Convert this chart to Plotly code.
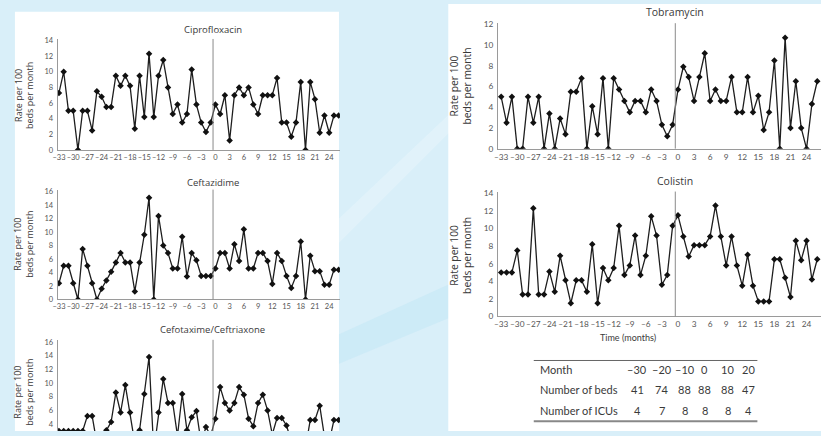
import plotly.graph_objects as go

W, H = 821, 436

# ---------------- data ----------------
months = [-33, -32, -31, -30, -29, -28, -27, -26, -25, -24, -23, -22, -21, -20, -19, -18, -17,
          -16, -15, -14, -13, -12, -11, -10, -9, -8, -7, -6, -5, -4, -3, -2, -1,
          0, 1, 2, 3, 4, 5, 6, 7, 8, 9, 10, 11, 12, 13, 14, 15, 16, 17, 18, 19, 20,
          21, 22, 23, 24, 25, 26]

tick_vals = [-33, -30, -27, -24, -21, -18, -15, -12, -9, -6, -3, 0, 3, 6, 9, 12, 15, 18, 21, 24]
tick_text = ["–33", "–30", "–27", "–24", "–21", "–18", "–15", "–12", "–9", "–6", "–3",
             "0", "3", "6", "9", "12", "15", "18", "21", "24"]

ciprofloxacin = [7.3, 10, 5, 5, 0, 5, 5, 2.5, 7.5, 6.8, 5.5, 5.5, 9.5, 8.2, 9.5, 8.2, 2.7,
                 9.5, 4.2, 12.3, 4.2, 9.5, 11.5, 8, 4.6, 5.8, 3.5, 4.6, 10.3, 5.8, 3.5, 2.3, 3.5,
                 5.8, 4.6, 7, 1.2, 7, 8, 7, 8, 5.8, 4.6, 7, 7, 7, 9.2, 3.5, 3.5, 1.7, 3.5,
                 8.7, 0, 8.7, 6.5, 2.2, 4.4, 2.2, 4.4, 4.4]

ceftazidime = [2.4, 5, 5, 2.4, 0, 7.5, 5, 2.4, 0, 1.6, 2.8, 4.1, 5.5, 6.9, 5.5, 5.5, 1.2,
               5.5, 9.6, 15.1, 0, 12.4, 8, 6.9, 4.6, 4.6, 9.3, 3.4, 6.9, 5.8, 3.5, 3.5, 3.5,
               4.6, 6.9, 6.9, 4.6, 8.2, 5.7, 10.4, 4.6, 4.6, 6.9, 6.9, 5.7, 2.3, 6.9, 5.7, 3.5,
               1.7, 3.5, 8.6, 0, 6.5, 4.2, 4.2, 2.2, 2.2, 4.4, 4.4]

cefotaxime = [3.0, 3.0, 3.0, 3.0, 3.0, 3.0, 5.2, 5.2, 1.2, 1.2, 3.1, 4.3, 8.6, 5.7, 9.7, 5.7,
              1.2, 3.1, 8.4, 13.8, 0, 5.7, 10.6, 7.1, 7.1, 2.3, 8.4, 3.1, 5.0, 5.9, 1.2, 3.6, 2.3,
              4.8, 9.4, 7.1, 6.0, 7.1, 9.4, 8.3, 4.8, 3.7, 7.1, 8.3, 6.0, 2.5, 4.9, 4.9, 3.8,
              1.5, 0.8, 2.2, 0.5, 4.6, 4.6, 6.7, 2.2, 1.4, 4.6, 4.6]

tobramycin = [5, 2.5, 5, 0, 0, 5, 2.5, 5, 0, 3.4, 0, 2.9, 1.4, 5.5, 5.5, 6.8, 0, 4.1, 1.4,
              6.8, 0, 6.8, 5.7, 4.6, 3.5, 4.6, 4.6, 3.5, 5.7, 4.6, 2.3, 1.2, 2.3,
              5.7, 7.9, 6.9, 4.6, 6.9, 9.2, 4.6, 5.7, 4.6, 4.6, 6.9, 3.5, 3.5, 6.9, 3.5, 5.1,
              1.8, 3.5, 8.5, 0, 10.7, 2.0, 6.5, 2.0, 0, 4.3, 6.5]

colistin = [5.0, 5.0, 5.0, 7.5, 2.5, 2.5, 12.3, 2.5, 2.5, 5.1, 2.8, 6.9, 4.1, 1.5, 4.1, 4.1,
            2.8, 8.2, 1.5, 5.5, 4.1, 5.5, 10.3, 4.7, 5.8, 9.2, 4.7, 6.9, 11.4, 9.2, 3.6, 4.7, 10.3,
            11.5, 9.1, 6.8, 8.1, 8.1, 8.1, 9.1, 12.6, 9.1, 5.8, 9.1, 5.8, 3.5, 7.0, 3.5, 1.7,
            1.7, 1.7, 6.5, 6.5, 4.4, 2.2, 8.6, 6.4, 8.6, 4.2, 6.5]

table_months = ["–30", "–20", "–10", "0", "10", "20"]
table_beds = ["41", "74", "88", "88", "88", "47"]
table_icus = ["4", "7", "8", "8", "8", "4"]


# ---------------- helpers ----------------
def px(x):
    return x / W


def py(y):
    return 1 - y / H


FONT = "Open Sans"
TICKFONT = "Lato"
TXT = "#3a3a3a"
AX = "#9a9a9a"

panels = [
    ("Ciprofloxacin", ciprofloxacin, (53, 337), (35.7, 149), [0, 14.2], "L", True),
    ("Ceftazidime", ceftazidime, (53, 337), (189.5, 301.7), [0, 16.3], "L", True),
    ("Cefotaxime/Ceftriaxone", cefotaxime, (53, 337), (342.9, 436), [3.0, 16.3], "L", False),
    ("Tobramycin", tobramycin, (496, 821), (19.6, 147.7), [0, 12.1], "R", True),
    ("Colistin", colistin, (496, 821), (191.5, 319), [0, 14.2], "R", True),
]

fig = go.Figure()
shapes = []
annotations = []

# background decoration
shapes.append(dict(type="path", xref="paper", yref="paper", layer="below",
                   path=f"M {px(330)},{py(225)} L {px(460)},{py(100)} L {px(460)},{py(118)} L {px(330)},{py(250)} Z",
                   fillcolor="rgba(255,255,255,0.22)", line=dict(width=0)))
shapes.append(dict(type="path", xref="paper", yref="paper", layer="below",
                   path=f"M {px(330)},{py(340)} L {px(460)},{py(280)} L {px(460)},{py(315)} L {px(330)},{py(370)} Z",
                   fillcolor="rgba(170,222,243,0.25)", line=dict(width=0)))
shapes.append(dict(type="rect", xref="paper", yref="paper", layer="below",
                   x0=px(10), x1=px(336), y0=0, y1=py(8), fillcolor="white", line=dict(width=0)))
shapes.append(dict(type="rect", xref="paper", yref="paper", layer="below",
                   x0=px(446), x1=1, y0=0, y1=1, fillcolor="white", line=dict(width=0)))

for i, (name, vals, (xl, xr), (yt, yb), yr, side, showx) in enumerate(panels):
    k = "" if i == 0 else str(i + 1)
    left = side == "L"
    xrange = [-33.27, 26.27] if left else [-33.6, 26.7]
    tfs = 7.5 if left else 8.3
    fig.add_trace(go.Scatter(
        x=months, y=vals, xaxis="x" + k, yaxis="y" + k, mode="lines+markers",
        line=dict(color="#1e1e1e", width=1.3),
        marker=dict(symbol="diamond", size=5, color="#111111"),
        showlegend=False, hoverinfo="x+y"))
    fig.layout["xaxis" + k] = dict(
        domain=[px(xl), px(xr)], anchor="y" + k, range=xrange,
        showline=showx, linecolor=AX, linewidth=1, showgrid=False, zeroline=False,
        tickmode="array", tickvals=tick_vals, ticktext=tick_text, tickangle=0,
        showticklabels=showx, ticks="", tickfont=dict(family=TICKFONT, size=tfs, color="#555"))
    fig.layout["yaxis" + k] = dict(
        domain=[py(yb), py(yt)], anchor="x" + k, range=yr,
        showline=True, linecolor=AX, linewidth=1, showgrid=False, zeroline=False,
        dtick=2, tick0=0, ticks="", ticklabelstandoff=2,
        tickfont=dict(family=TICKFONT, size=tfs, color="#555"))
    shapes.append(dict(type="line", xref="x" + k, yref="y" + k + " domain",
                       x0=-0.5, x1=-0.5, y0=0, y1=1, line=dict(color="#8a8a8a", width=1)))
    tx = 209 if left else 674
    ty = {0: 26, 1: 182, 2: 332, 3: 8, 4: 181}[i]
    annotations.append(dict(text=name, x=px(tx), y=py(ty), xref="paper", yref="paper",
                            showarrow=False, xanchor="center", yanchor="middle",
                            font=dict(family=FONT, size=9.5 if left else 10.5, color=TXT)))
    yc = {0: 93, 1: 245, 2: 396, 3: 84, 4: 257}[i]
    annotations.append(dict(text="Rate per 100<br>beds per month", x=px(19 if left else 458),
                            y=py(yc), xref="paper", yref="paper", showarrow=False,
                            textangle=-90, xanchor="center", yanchor="middle",
                            font=dict(family=FONT, size=9 if left else 10.3, color=TXT)))

annotations.append(dict(text="Time (months)", x=px(657), y=py(348), xref="paper", yref="paper",
                        showarrow=False, font=dict(family=TICKFONT, size=9, color=TXT)))

# table
row_y = [373, 394, 415]
row_labels = ["Month", "Number of beds", "Number of ICUs"]
col_x = [636, 661, 684, 704, 727, 748]
for ry, lab, vals in zip(row_y, row_labels, [table_months, table_beds, table_icus]):
    annotations.append(dict(text=lab, x=px(536), y=py(ry), xref="paper", yref="paper",
                            showarrow=False, xanchor="left", yanchor="middle",
                            font=dict(family=TICKFONT, size=11, color=TXT)))
    for cx, v in zip(col_x, vals):
        annotations.append(dict(text=v, x=px(cx), y=py(ry), xref="paper", yref="paper",
                                showarrow=False, xanchor="center", yanchor="middle",
                                font=dict(family=TICKFONT, size=11, color=TXT)))
shapes.append(dict(type="line", xref="paper", yref="paper", x0=px(532), x1=px(757),
                   y0=py(364), y1=py(364), line=dict(color="#666", width=1)))
shapes.append(dict(type="line", xref="paper", yref="paper", x0=px(532), x1=px(757),
                   y0=py(426), y1=py(426), line=dict(color="#888", width=2)))

fig.update_layout(
    width=W, height=H, margin=dict(l=0, r=0, t=0, b=0),
    paper_bgcolor="#d9eff9", plot_bgcolor="rgba(0,0,0,0)",
    shapes=shapes, annotations=annotations, showlegend=False,
    font=dict(family=FONT, color=TXT))

fig.write_html("out.html", config={"displayModeBar": False},
               post_script="document.body.style.margin='0';document.body.style.overflow='hidden';")
